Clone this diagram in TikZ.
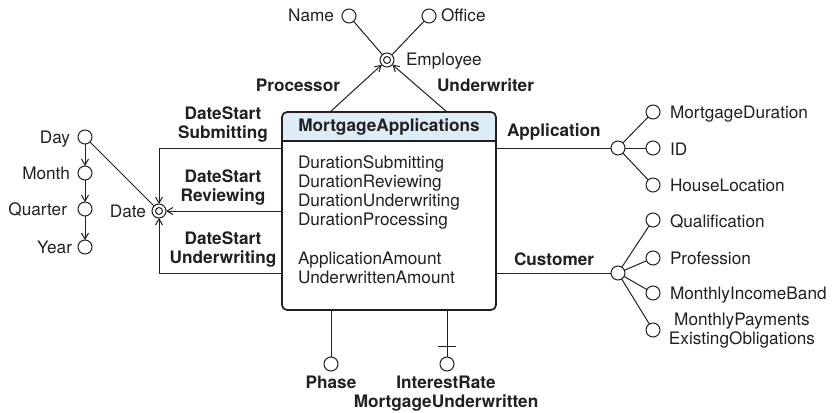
\documentclass[tikz,border=0pt]{standalone}
\usepackage{fontspec}
\setmainfont{TeX Gyre Heros}
\usetikzlibrary{arrows.meta,calc}
\definecolor{ink}{HTML}{231F20}
\definecolor{hdrblue}{HTML}{DCEDF8}
\begin{document}
\begin{tikzpicture}[x=1pt,y=-1pt,
  every node/.style={text=ink,inner sep=0pt,outer sep=0pt},
  txt/.style={font=\fontsize{17.2}{19}\selectfont},
  bld/.style={font=\fontsize{17.2}{19}\selectfont\bfseries},
  attr/.style={circle,draw=ink,line width=1pt,minimum size=14pt,fill=white},
  dim/.style={circle,draw=ink,line width=1pt,minimum size=14pt,fill=white,
    path picture={\draw[ink,line width=1pt] (path picture bounding box.center) circle[radius=3.5pt];}},
  link/.style={draw=ink,line width=1pt},
  arr/.style={link,-{Straight Barb[length=6pt,width=7pt]}},
]
\useasboundingbox (0,0) rectangle (832,412);

% ---- fact table ----
\begin{scope}
  \clip[rounded corners=5pt] (282,112) rectangle (496,310);
  \fill[hdrblue] (282,112) rectangle (496,141);
\end{scope}
\node[draw=ink,line width=1.7pt,rounded corners=5pt,minimum width=214pt,minimum height=198pt] (fact) at (389,211) {};
\draw[ink,line width=1.4pt] (fact.west |- 0,141) -- (fact.east |- 0,141);
\node[bld,anchor=base] (title) at (389,131) {MortgageApplications};
\node[txt,anchor=base west] (m1) at (298,168) {DurationSubmitting};
\node[txt,anchor=base west] (m2) at (298,187) {DurationReviewing};
\node[txt,anchor=base west] (m3) at (298,206) {DurationUnderwriting};
\node[txt,anchor=base west] (m4) at (298,225) {DurationProcessing};
\node[txt,anchor=base west] (m5) at (298,264) {ApplicationAmount};
\node[txt,anchor=base west] (m6) at (298,283) {UnderwrittenAmount};

% ---- employee dimension ----
\node[dim] (emp) at (387,60) {};
\node[attr] (name) at (349,16) {};
\node[attr] (office) at (429,16) {};
\node[txt,anchor=base east] (namel) at (334,22) {Name};
\node[txt,anchor=base west] (officel) at (441,22) {Office};
\node[txt,anchor=base west] (empl) at (406,66) {Employee};
\draw[link] (name) -- (emp);
\draw[link] (office) -- (emp);
\draw[arr] ([xshift=48pt]fact.north west) -- (emp);
\draw[arr] ([xshift=165pt]fact.north west) -- (emp);
\node[bld,anchor=base east] (procl) at (340,92) {Processor};
\node[bld,anchor=base west] (undl) at (437,92) {Underwriter};

% ---- date dimension ----
\node[dim] (date) at (159,211) {};
\node[txt,anchor=base east] (datel) at (146,217) {Date};
\node[attr] (day) at (85,137) {};
\node[attr] (month) at (85,173) {};
\node[attr] (quarter) at (85,209) {};
\node[attr] (year) at (85,247) {};
\node[txt,anchor=base east] (dayl) at (70,143) {Day};
\node[txt,anchor=base east] (monthl) at (70,179) {Month};
\node[txt,anchor=base east] (quarterl) at (67,215) {Quarter};
\node[txt,anchor=base east] (yearl) at (72,253) {Year};
\draw[arr] (day) -- (month);
\draw[arr] (month) -- (quarter);
\draw[arr] (quarter) -- (year);
\draw[link] (day) -- (date);
\draw[arr] ([yshift=-36pt]fact.north west) -| (date);
\draw[arr] (fact.west |- date) -- (date);
\draw[arr] ([yshift=-161pt]fact.north west) -| (date);
\node[bld,anchor=base] (ds1a) at (223,119) {DateStart};
\node[bld,anchor=base] (ds1b) at (223,138) {Submitting};
\node[bld,anchor=base] (ds2a) at (223,182) {DateStart};
\node[bld,anchor=base] (ds2b) at (223,201) {Reviewing};
\node[bld,anchor=base] (ds3a) at (223,244) {DateStart};
\node[bld,anchor=base] (ds3b) at (223,263) {Underwriting};

% ---- application dimension ----
\node[attr] (app) at (618,148) {};
\node[attr] (mdur) at (653,112) {};
\node[attr] (id) at (653,148) {};
\node[attr] (house) at (653,185) {};
\draw[link] (fact.east |- app) -- (app);
\draw[link] (app) -- (mdur);
\draw[link] (app) -- (id);
\draw[link] (app) -- (house);
\node[bld,anchor=base west] (appl) at (507,136) {Application};
\node[txt,anchor=base west] (mdurl) at (670,118) {MortgageDuration};
\node[txt,anchor=base west] (idl) at (670,155) {ID};
\node[txt,anchor=base west] (housel) at (670,191) {HouseLocation};

% ---- customer dimension ----
\node[attr] (cust) at (618,273) {};
\node[attr] (qual) at (653,220) {};
\node[attr] (prof) at (653,258) {};
\node[attr] (income) at (653,293) {};
\node[attr] (pay) at (653,330) {};
\draw[link] (fact.east |- cust) -- (cust);
\draw[link] (cust) -- (qual);
\draw[link] (cust) -- (prof);
\draw[link] (cust) -- (income);
\draw[link] (cust) -- (pay);
\node[bld,anchor=base west] (custl) at (514,265) {Customer};
\node[txt,anchor=base west] (quall) at (670,227) {Qualification};
\node[txt,anchor=base west] (profl) at (670,264) {Profession};
\node[txt,anchor=base west] (incomel) at (670,299) {MonthlyIncomeBand};
\node[txt,anchor=base] (payla) at (742,325) {MonthlyPayments};
\node[txt,anchor=base] (paylb) at (742,344) {ExistingObligations};

% ---- degenerate dimensions ----
\node[attr] (phase) at (331,364) {};
\node[attr] (rate) at (447,364) {};
\draw[link] (fact.south -| phase) -- (phase);
\draw[link] (fact.south -| rate) -- (rate);
\draw[link] ([shift={(-9pt,18pt)}]rate.center) -- ([shift={(9pt,18pt)}]rate.center);
\node[bld,anchor=base] (phasel) at (331,388) {Phase};
\node[bld,anchor=base] (ratel) at (446,388) {InterestRate};
\node[bld,anchor=base] (ratel2) at (446,407) {MortgageUnderwritten};
\end{tikzpicture}
\end{document}
